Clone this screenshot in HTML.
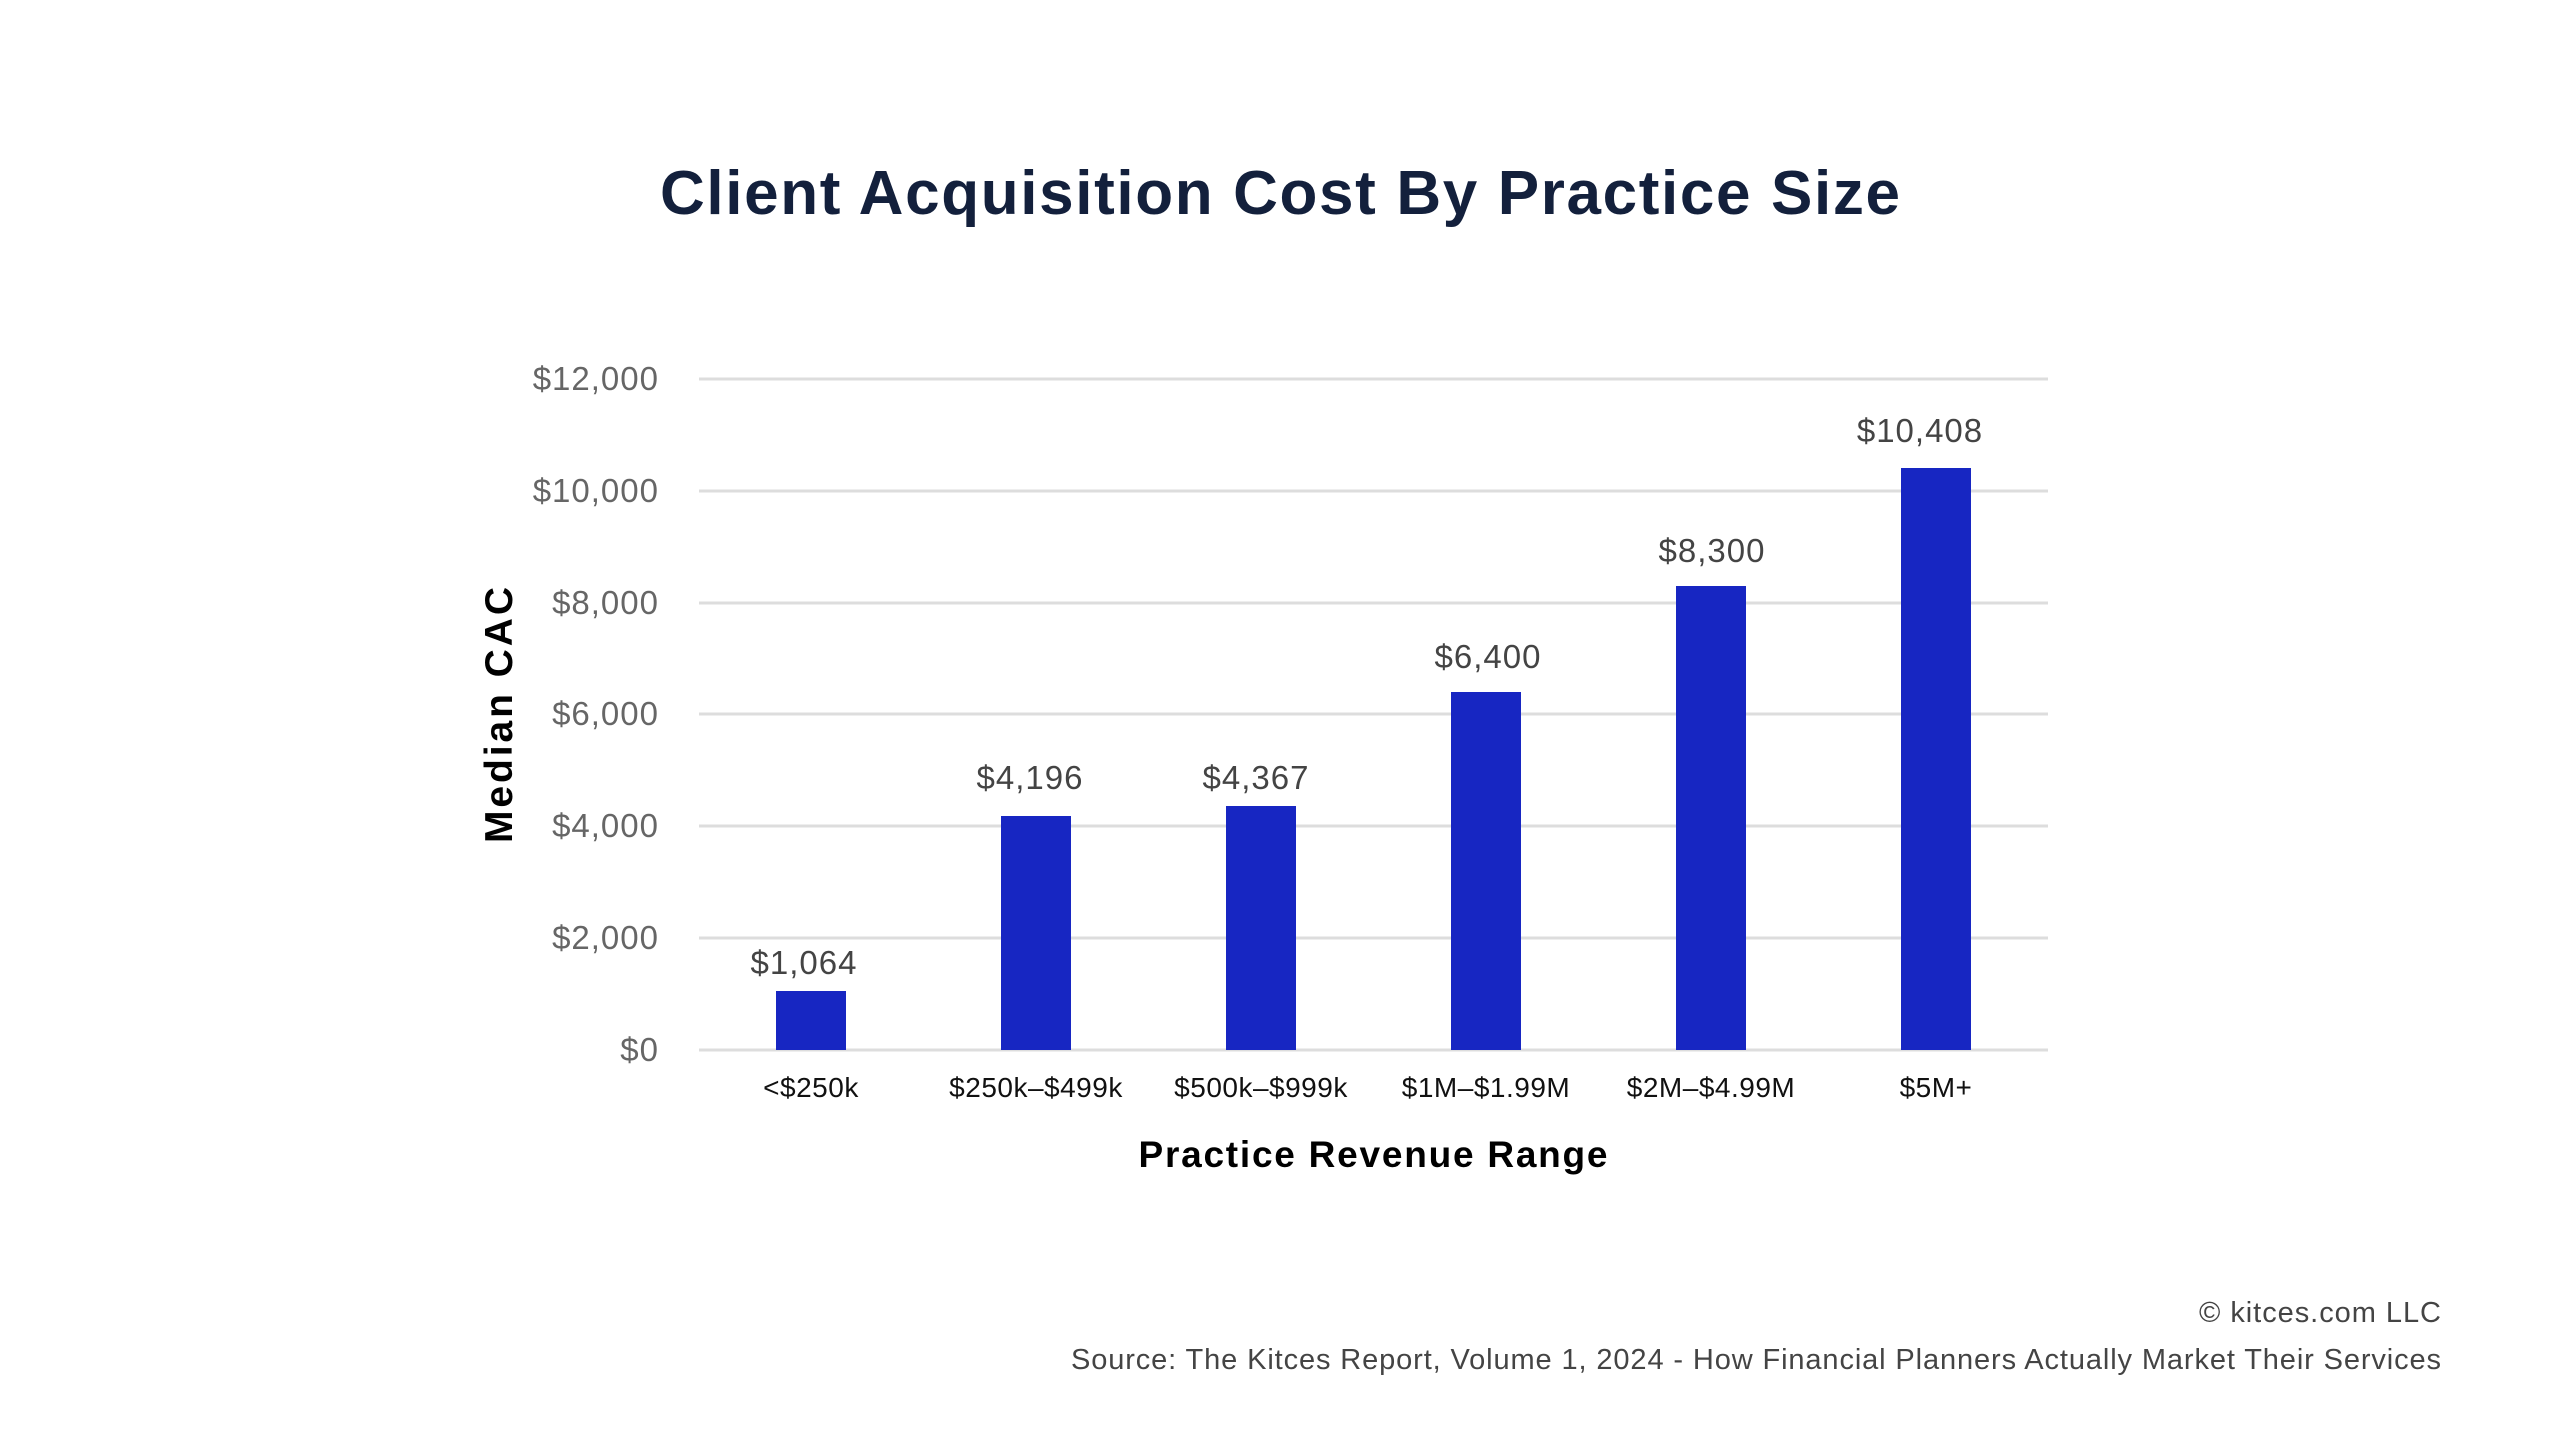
<!DOCTYPE html>
<html><head><meta charset="utf-8"><style>
html,body{margin:0;padding:0;background:#fff;}
svg{display:block;}
text{font-family:"Liberation Sans",Arial,sans-serif;}
</style></head><body>
<svg width="2560" height="1440" viewBox="0 0 2560 1440" xmlns="http://www.w3.org/2000/svg">
<rect width="2560" height="1440" fill="#fff"/>
<text x="1280" y="214" text-anchor="middle" font-size="62" font-weight="bold" fill="#13203c" textLength="1240" lengthAdjust="spacing">Client Acquisition Cost By Practice Size</text>
<g stroke="#dddddd" stroke-width="3">
<line x1="699" x2="2048" y1="379" y2="379"/>
<line x1="699" x2="2048" y1="491" y2="491"/>
<line x1="699" x2="2048" y1="603" y2="603"/>
<line x1="699" x2="2048" y1="714" y2="714"/>
<line x1="699" x2="2048" y1="826" y2="826"/>
<line x1="699" x2="2048" y1="938" y2="938"/>
<line x1="699" x2="2048" y1="1050" y2="1050"/>
</g>
<g font-size="33" fill="#666" text-anchor="end" letter-spacing="1">
<text x="659" y="390">$12,000</text>
<text x="659" y="502">$10,000</text>
<text x="659" y="614">$8,000</text>
<text x="659" y="725">$6,000</text>
<text x="659" y="837">$4,000</text>
<text x="659" y="949">$2,000</text>
<text x="659" y="1061">$0</text>
</g>
<g fill="#1726c2">
<rect x="776" y="991" width="70" height="59"/>
<rect x="1001" y="816" width="70" height="234"/>
<rect x="1226" y="806" width="70" height="244"/>
<rect x="1451" y="692" width="70" height="358"/>
<rect x="1676" y="586" width="70" height="464"/>
<rect x="1901" y="468" width="70" height="582"/>
</g>
<g font-size="33" fill="#444" text-anchor="middle" letter-spacing="1">
<text x="804" y="974">$1,064</text>
<text x="1030" y="789">$4,196</text>
<text x="1256" y="789">$4,367</text>
<text x="1488" y="668">$6,400</text>
<text x="1712" y="562">$8,300</text>
<text x="1920" y="442">$10,408</text>
</g>
<g font-size="28" fill="#111" text-anchor="middle" letter-spacing="0.5">
<text x="811" y="1097">&lt;$250k</text>
<text x="1036" y="1097">$250k–$499k</text>
<text x="1261" y="1097">$500k–$999k</text>
<text x="1486" y="1097">$1M–$1.99M</text>
<text x="1711" y="1097">$2M–$4.99M</text>
<text x="1936" y="1097">$5M+</text>
</g>
<text x="1373" y="1167" text-anchor="middle" font-size="37" font-weight="bold" fill="#000" textLength="469" lengthAdjust="spacing">Practice Revenue Range</text>
<text transform="translate(512,715) rotate(-90)" text-anchor="middle" font-size="39" font-weight="bold" fill="#000" textLength="256" lengthAdjust="spacing">Median CAC</text>
<g font-size="29" fill="#444" text-anchor="end">
<text x="2441" y="1322" textLength="242" lengthAdjust="spacing">© kitces.com LLC</text>
<text x="2441" y="1369" textLength="1370" lengthAdjust="spacing">Source: The Kitces Report, Volume 1, 2024 - How Financial Planners Actually Market Their Services</text>
</g>
</svg>
</body></html>
